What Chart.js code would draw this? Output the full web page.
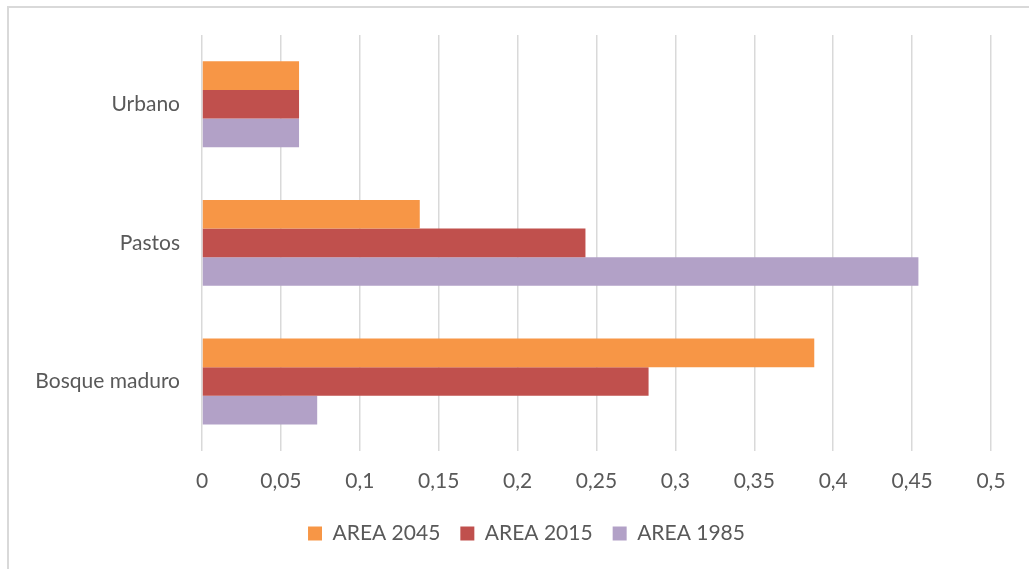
<!DOCTYPE html>
<html>
<head>
<meta charset="utf-8">
<script src="https://cdn.jsdelivr.net/npm/chart.js@4/dist/chart.umd.min.js"></script>
<style>
    html, body { margin: 0; padding: 0; background: #fff; }
    .frame {
        position: absolute;
        left: 7px; top: 6px;
        width: 1040px; height: 580px;
        border: 2px solid #d9d9d9;
        box-sizing: border-box;
    }
    .chart-wrap { position: absolute; left: 0; top: 0; width: 1029px; height: 569px; }
</style>
</head>
<body>
<div class="frame"></div>
<div class="chart-wrap"><canvas id="areaChart"></canvas></div>
<script>
// Chart data
const categories = ['Urbano', 'Pastos', 'Bosque maduro'];
const area2045 = [0.0615, 0.138, 0.388];
const area2015 = [0.0615, 0.243, 0.283];
const area1985 = [0.0615, 0.454, 0.073];
const seriesNames = ['AREA 2045', 'AREA 2015', 'AREA 1985'];

// Nudges the legend so it sits where the Excel one does
const legendTweak = {
    id: 'legendTweak',
    beforeLayout(chart) {
        const lg = chart.legend;
        if (lg && !lg._tweaked) {
            const fit = lg.fit;
            lg.fit = function() {
                fit.call(this);
                this.height -= 6;
            };
            lg._tweaked = true;
        }
    },
    afterLayout(chart) {
        const lg = chart.legend;
        if (!lg) return;
        lg.top -= 9;
        lg.bottom -= 9;
        lg.left += 21;
        lg.right += 21;
    }
};

document.addEventListener('DOMContentLoaded', function() {
    initializeAreaChart();
});

function initializeAreaChart() {
    const ctx = document.getElementById('areaChart');
    if (!ctx) return;

    const labelFont = { family: 'Lato, "Open Sans", sans-serif', size: 21 };
    const textColor = '#595959';

    const chartConfig = {
        type: 'bar',
        data: {
            labels: categories,
            datasets: [
                { label: seriesNames[0], data: area2045, backgroundColor: '#F79646' },
                { label: seriesNames[1], data: area2015, backgroundColor: '#C0504D' },
                { label: seriesNames[2], data: area1985, backgroundColor: '#B2A1C7' }
            ]
        },
        options: {
            indexAxis: 'y',
            responsive: true,
            maintainAspectRatio: false,
            animation: false,
            layout: {
                padding: { left: 20, right: 38, top: 35, bottom: 12 }
            },
            datasets: {
                bar: {
                    categoryPercentage: 0.62,
                    barPercentage: 1.0,
                    borderWidth: 0
                }
            },
            plugins: {
                legend: {
                    position: 'bottom',
                    labels: {
                        font: labelFont,
                        color: textColor,
                        boxWidth: 14,
                        boxHeight: 14,
                        padding: 20
                    }
                },
                tooltip: { enabled: false }
            },
            scales: {
                x: {
                    min: 0,
                    max: 0.5,
                    ticks: {
                        stepSize: 0.05,
                        font: labelFont,
                        color: textColor,
                        padding: 18,
                        callback: function(value) {
                            return String(Math.round(value * 100) / 100).replace('.', ',');
                        }
                    },
                    grid: {
                        color: '#d9d9d9',
                        lineWidth: 1.5,
                        drawTicks: false
                    },
                    border: { display: false }
                },
                y: {
                    ticks: {
                        font: labelFont,
                        color: textColor,
                        padding: 22
                    },
                    grid: { display: false, drawTicks: false },
                    border: { display: false },
                    afterFit: function(scale) {
                        scale.width = 182;
                    }
                }
            }
        },
        plugins: [legendTweak]
    };

    window.areaChart = new Chart(ctx, chartConfig);
}
</script>
</body>
</html>
